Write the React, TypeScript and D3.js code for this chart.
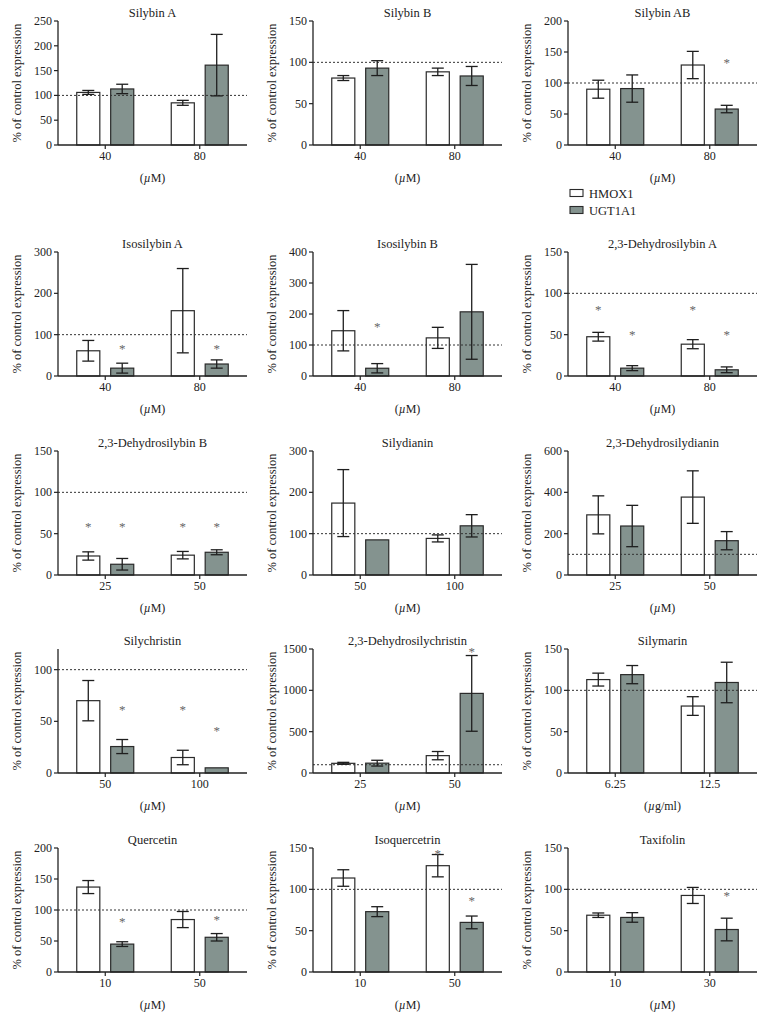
import React from "react";
import * as d3 from "d3";

// ---------- data ----------
const panelTitles = [
  "Silybin A", "Silybin B", "Silybin AB",
  "Isosilybin A", "Isosilybin B", "2,3-Dehydrosilybin A",
  "2,3-Dehydrosilybin B", "Silydianin", "2,3-Dehydrosilydianin",
  "Silychristin", "2,3-Dehydrosilychristin", "Silymarin",
  "Quercetin", "Isoquercetrin", "Taxifolin",
];
const doseLabels = [
  ["40", "80"], ["40", "80"], ["40", "80"],
  ["40", "80"], ["40", "80"], ["40", "80"],
  ["25", "50"], ["50", "100"], ["25", "50"],
  ["50", "100"], ["25", "50"], ["6.25", "12.5"],
  ["10", "50"], ["10", "50"], ["10", "30"],
];
const unitLabels = [
  "µM", "µM", "µM", "µM", "µM", "µM", "µM", "µM", "µM",
  "µM", "µM", "µg/ml", "µM", "µM", "µM",
];
const yDomainMax = [250, 150, 200, 300, 400, 150, 150, 300, 600, 120, 1500, 150, 200, 150, 150];
const yTickValues = [
  [0, 50, 100, 150, 200, 250], [0, 50, 100, 150], [0, 50, 100, 150, 200],
  [0, 100, 200, 300], [0, 100, 200, 300, 400], [0, 50, 100, 150],
  [0, 50, 100, 150], [0, 100, 200, 300], [0, 200, 400, 600],
  [0, 50, 100], [0, 500, 1000, 1500], [0, 50, 100, 150],
  [0, 50, 100, 150, 200], [0, 50, 100, 150], [0, 50, 100, 150],
];
const seriesNames = ["HMOX1", "UGT1A1"];
const hmox1Mean = [
  [106, 85], [81, 88.5], [90, 129],
  [61, 158], [146, 123], [47.5, 38.5],
  [23, 24], [174, 88.5], [291, 377],
  [70, 15], [117, 210], [113, 81],
  [137, 84.6], [113.7, 128.6], [68.7, 92.6],
];
const hmox1Err = [
  [4, 5], [3, 4.5], [14.5, 22],
  [25, 102], [65, 34], [5.3, 5.5],
  [5, 4.5], [81, 8.5], [92, 127],
  [19.5, 7], [12, 50], [7.8, 11.3],
  [10.5, 13], [10, 13.5], [2.7, 9.7],
];
const ugt1a1Mean = [
  [113, 161], [93, 83.5], [91, 58],
  [19, 29], [25, 207], [9.5, 7.5],
  [13, 27.5], [85, 119], [237, 166],
  [25.6, 5], [119, 963], [119, 109.5],
  [45, 56], [73, 60], [66, 51.4],
];
const ugt1a1Err = [
  [9.5, 62], [9, 11.5], [22, 6],
  [12, 10], [15, 153], [3, 3.5],
  [7, 3], [0, 27], [100, 44],
  [6.8, 0], [35, 458], [11, 24.5],
  [3.8, 6], [6, 7.7], [5.8, 13.7],
];
// y position (data units) of significance asterisks, null = none
const hmox1Star = [
  [null, null], [null, null], [null, null],
  [null, null], [null, null], [84, 84],
  [62, 62], [null, null], [null, null],
  [null, 64], [null, null], [null, null],
  [null, null], [null, 146], [null, null],
];
const ugt1a1Star = [
  [null, null], [null, null], [null, 137],
  [73, 73], [168, null], [53.5, 53.5],
  [62, 62], [null, null], [null, null],
  [64, 44], [null, 1500], [null, null],
  [86, 88], [null, 90], [null, 95],
];
const referenceLine = 100;

// ---------- layout ----------
const W = 765;
const H = 1020;
const colX = [58, 313, 568];
const rowTop = [21, 252, 451, 649, 848];
const plotW = 189;
const plotH = 124;
const FONT = "'Liberation Serif', 'Times New Roman', serif";
const INK = "#222";
const GREY_FILL = "#84938f";

function Panel({ i }: { i: number }) {
  const x0 = colX[i % 3];
  const top = rowTop[Math.floor(i / 3)];
  const zero = top + plotH;
  const y = d3.scaleLinear().domain([0, yDomainMax[i]]).range([zero, top]);
  const x = d3.scaleBand<string>().domain(doseLabels[i]).range([x0, x0 + plotW]).padding(0);
  const bw = x.bandwidth();
  const x1 = d3
    .scaleBand<string>()
    .domain(seriesNames)
    .range([bw / 2 - 28.5, bw / 2 + 28.5])
    .paddingInner(0.32);
  const means = [hmox1Mean[i], ugt1a1Mean[i]];
  const errs = [hmox1Err[i], ugt1a1Err[i]];
  const stars = [hmox1Star[i], ugt1a1Star[i]];
  const fills = ["#ffffff", GREY_FILL];
  const capW = 12;
  const cx = x0 + plotW / 2;

  return (
    <g>
      <text x={cx} y={top - 4} textAnchor="middle" fontSize={12.5} fontFamily={FONT} fill={INK}>
        {panelTitles[i]}
      </text>
      {/* bars */}
      {doseLabels[i].map((d, di) =>
        seriesNames.map((s, si) => {
          const v = means[si][di];
          const bx = (x(d) as number) + (x1(s) as number);
          return (
            <rect
              key={`b${d}${s}`}
              x={bx}
              y={y(v)}
              width={x1.bandwidth()}
              height={zero - y(v)}
              fill={fills[si]}
              stroke="#2a2a2a"
              strokeWidth={1.2}
            />
          );
        })
      )}
      {/* reference line */}
      <line
        x1={x0}
        x2={x0 + plotW}
        y1={y(referenceLine)}
        y2={y(referenceLine)}
        stroke="#333"
        strokeWidth={1}
        strokeDasharray="2,2"
      />
      {/* error bars */}
      {doseLabels[i].map((d, di) =>
        seriesNames.map((s, si) => {
          const v = means[si][di];
          const e = errs[si][di];
          if (!e) return null;
          const bc = (x(d) as number) + (x1(s) as number) + x1.bandwidth() / 2;
          return (
            <g key={`e${d}${s}`} stroke="#1e1e1e" strokeWidth={1.3}>
              <line x1={bc} x2={bc} y1={y(v + e)} y2={y(v - e)} />
              <line x1={bc - capW / 2} x2={bc + capW / 2} y1={y(v + e)} y2={y(v + e)} />
              <line x1={bc - capW / 2} x2={bc + capW / 2} y1={y(v - e)} y2={y(v - e)} />
            </g>
          );
        })
      )}
      {/* asterisks */}
      {doseLabels[i].map((d, di) =>
        seriesNames.map((s, si) => {
          const st = stars[si][di];
          if (st == null) return null;
          const bc = (x(d) as number) + (x1(s) as number) + x1.bandwidth() / 2;
          return (
            <text
              key={`s${d}${s}`}
              x={bc}
              y={y(st) + 7}
              textAnchor="middle"
              fontSize={13}
              fontFamily={FONT}
              fill="#666"
            >
              *
            </text>
          );
        })
      )}
      {/* y axis */}
      <line x1={x0} x2={x0} y1={top} y2={zero} stroke={INK} strokeWidth={1.3} />
      {yTickValues[i].map((t) => (
        <g key={`yt${t}`}>
          <line x1={x0 - 4} x2={x0} y1={y(t)} y2={y(t)} stroke={INK} strokeWidth={1.2} />
          <text
            x={x0 - 6}
            y={y(t) + 4}
            textAnchor="end"
            fontSize={12}
            fontFamily={FONT}
            fill={INK}
          >
            {t}
          </text>
        </g>
      ))}
      {/* x axis */}
      <line x1={x0} x2={x0 + plotW} y1={zero} y2={zero} stroke={INK} strokeWidth={1.3} />
      {doseLabels[i].map((d) => {
        const c = (x(d) as number) + bw / 2;
        return (
          <g key={`xt${d}`}>
            <line x1={c} x2={c} y1={zero} y2={zero + 4} stroke={INK} strokeWidth={1.2} />
            <text x={c} y={zero + 15} textAnchor="middle" fontSize={12} fontFamily={FONT} fill={INK}>
              {d}
            </text>
          </g>
        );
      })}
      <text x={cx} y={zero + 37} textAnchor="middle" fontSize={12} fontFamily={FONT} fill={INK}>
        (<tspan fontStyle="italic">{unitLabels[i].slice(0, 1)}</tspan>
        {unitLabels[i].slice(1)})
      </text>
      {/* y label */}
      <text
        transform={`translate(${x0 - 37},${(top + zero) / 2}) rotate(-90)`}
        textAnchor="middle"
        fontSize={12.5}
        fontFamily={FONT}
        fill={INK}
      >
        % of control expression
      </text>
    </g>
  );
}

function Legend() {
  const lx = 570;
  const items = [
    { name: seriesNames[0], fill: "#ffffff", y: 193 },
    { name: seriesNames[1], fill: GREY_FILL, y: 210 },
  ];
  return (
    <g>
      {items.map((it) => (
        <g key={it.name}>
          <rect x={lx} y={it.y - 3.5} width={13} height={7} fill={it.fill} stroke="#2a2a2a" strokeWidth={1.1} />
          <text x={lx + 19} y={it.y + 4.5} fontSize={12.5} fontFamily={FONT} fill={INK}>
            {it.name}
          </text>
        </g>
      ))}
    </g>
  );
}

export default function App() {
  return (
    <svg
      width={W}
      height={H}
      viewBox={`0 0 ${W} ${H}`}
      style={{ position: "absolute", left: 0, top: 0, background: "#fff" }}
    >
      <rect width={W} height={H} fill="#fff" />
      {panelTitles.map((_, i) => (
        <Panel key={i} i={i} />
      ))}
      <Legend />
    </svg>
  );
}
